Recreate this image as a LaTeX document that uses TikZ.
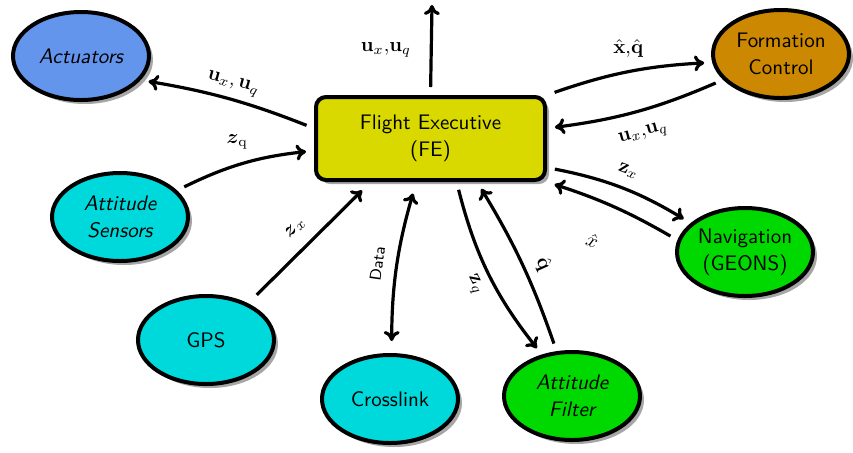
\documentclass[tikz,border=0pt]{standalone}
\usepackage{amsmath,amssymb}
\definecolor{actblue}{RGB}{100,149,237}
\definecolor{feyellow}{RGB}{217,217,0}
\definecolor{fcorange}{RGB}{204,136,0}
\definecolor{sencyan}{RGB}{0,217,220}
\definecolor{navgreen}{RGB}{0,217,0}
\usetikzlibrary{arrows.meta,positioning,shapes.geometric,shadows}

\begin{document}
\begin{tikzpicture}[x=0.5pt, y=0.5pt,
  unit/.style={ellipse, draw=black, line width=2pt, minimum width=68pt,
               minimum height=44pt, inner sep=0pt, align=center,
               font=\sffamily\fontsize{10.5}{13.5}\selectfont,
               drop shadow={shadow xshift=2pt, shadow yshift=-2pt, opacity=0.7}},
  iunit/.style={unit, font=\sffamily\itshape\fontsize{10.5}{13.5}\selectfont},
  exec/.style={rectangle, rounded corners=5pt, draw=black, line width=2pt,
               fill=feyellow, minimum width=114.5pt, minimum height=41.5pt,
               align=center, font=\sffamily\fontsize{10.5}{13.5}\selectfont,
               drop shadow={shadow xshift=2pt, shadow yshift=-2pt, opacity=0.7}},
  sig/.style={-{To[length=5pt,width=8pt]}, line width=1.6pt,
              shorten <=4pt, shorten >=4pt}
]
\useasboundingbox (0,0) rectangle (853,-452);

% Central node
\node[exec] (fe) at (430.5,-138.5) {Flight Executive\\(FE)};

% Subsystem nodes
\node[iunit, fill=actblue]  (act)  at ( 81, -56) {Actuators};
\node[unit,  fill=fcorange] (fc)   at (781, -54) {Formation\\Control};
\node[iunit, fill=sencyan]  (sens) at (120,-217) {Attitude\\Sensors};
\node[unit,  fill=navgreen] (nav)  at (745,-252) {Navigation\\(GEONS)};
\node[unit,  fill=sencyan]  (gps)  at (206,-340) {GPS};
\node[unit,  fill=sencyan]  (xl)   at (390,-399) {Crosslink};
\node[iunit, fill=navgreen] (af)   at (572,-396) {Attitude\\Filter};
\coordinate (top) at (432,-5);

% Arrows
\draw[sig, shorten >=0pt] (fe.north) -- node[midway, left=6pt] {$\mathbf{u}_x{,}\mathbf{u}_q$} (top);
\draw[sig] (fe.175) to[bend right=6] node[sloped, above=0pt] {$\mathbf{u}_x,\mathbf{u}_q$} (act.-22);
\draw[sig] (sens.25) to[bend left=10] node[pos=.45, above=4pt] {$\boldsymbol{z}_{\mathrm{q}}$} (fe.186);
\draw[sig, shorten <=6pt, shorten >=6pt] (gps.41) -- node[sloped, above=3pt] {$\boldsymbol{z}_x$} (fe.216);
\draw[sig, {To[length=5pt,width=8pt]}-{To[length=5pt,width=8pt]}, shorten <=6pt, shorten >=6pt]
  (xl.88) to[bend left=8] node[sloped, above=3pt, font=\sffamily\footnotesize] {Data} (fe.252);
\draw[sig] (fe.-59) to[bend right=12] node[sloped, below=1pt, pos=.52] {$\mathbf{z}_q$} (af.126);
\draw[sig] (af.109) to[bend right=6] node[sloped, above=1pt, pos=.45] {$\hat{\mathbf{q}}$} (fe.-43);
\draw[sig] (fe.-14) to[bend left=10] node[sloped, above=2pt] {$\mathbf{z}_x$} (nav.152);
\draw[sig] (nav.170) to[bend right=6] node[sloped, below=12pt, pos=.55] {$\hat{x}$} (fe.south east);
\draw[sig] (fe.north east) to[bend left=8] node[above=3pt] {$\hat{\mathbf{x}}$,$\hat{\mathbf{q}}$} (fc.187);
\draw[sig] (fc.204) to[bend left=8] node[sloped, below=4pt] {$\mathbf{u}_x{,}\mathbf{u}_q$} (fe.5);
\end{tikzpicture}
\end{document}
